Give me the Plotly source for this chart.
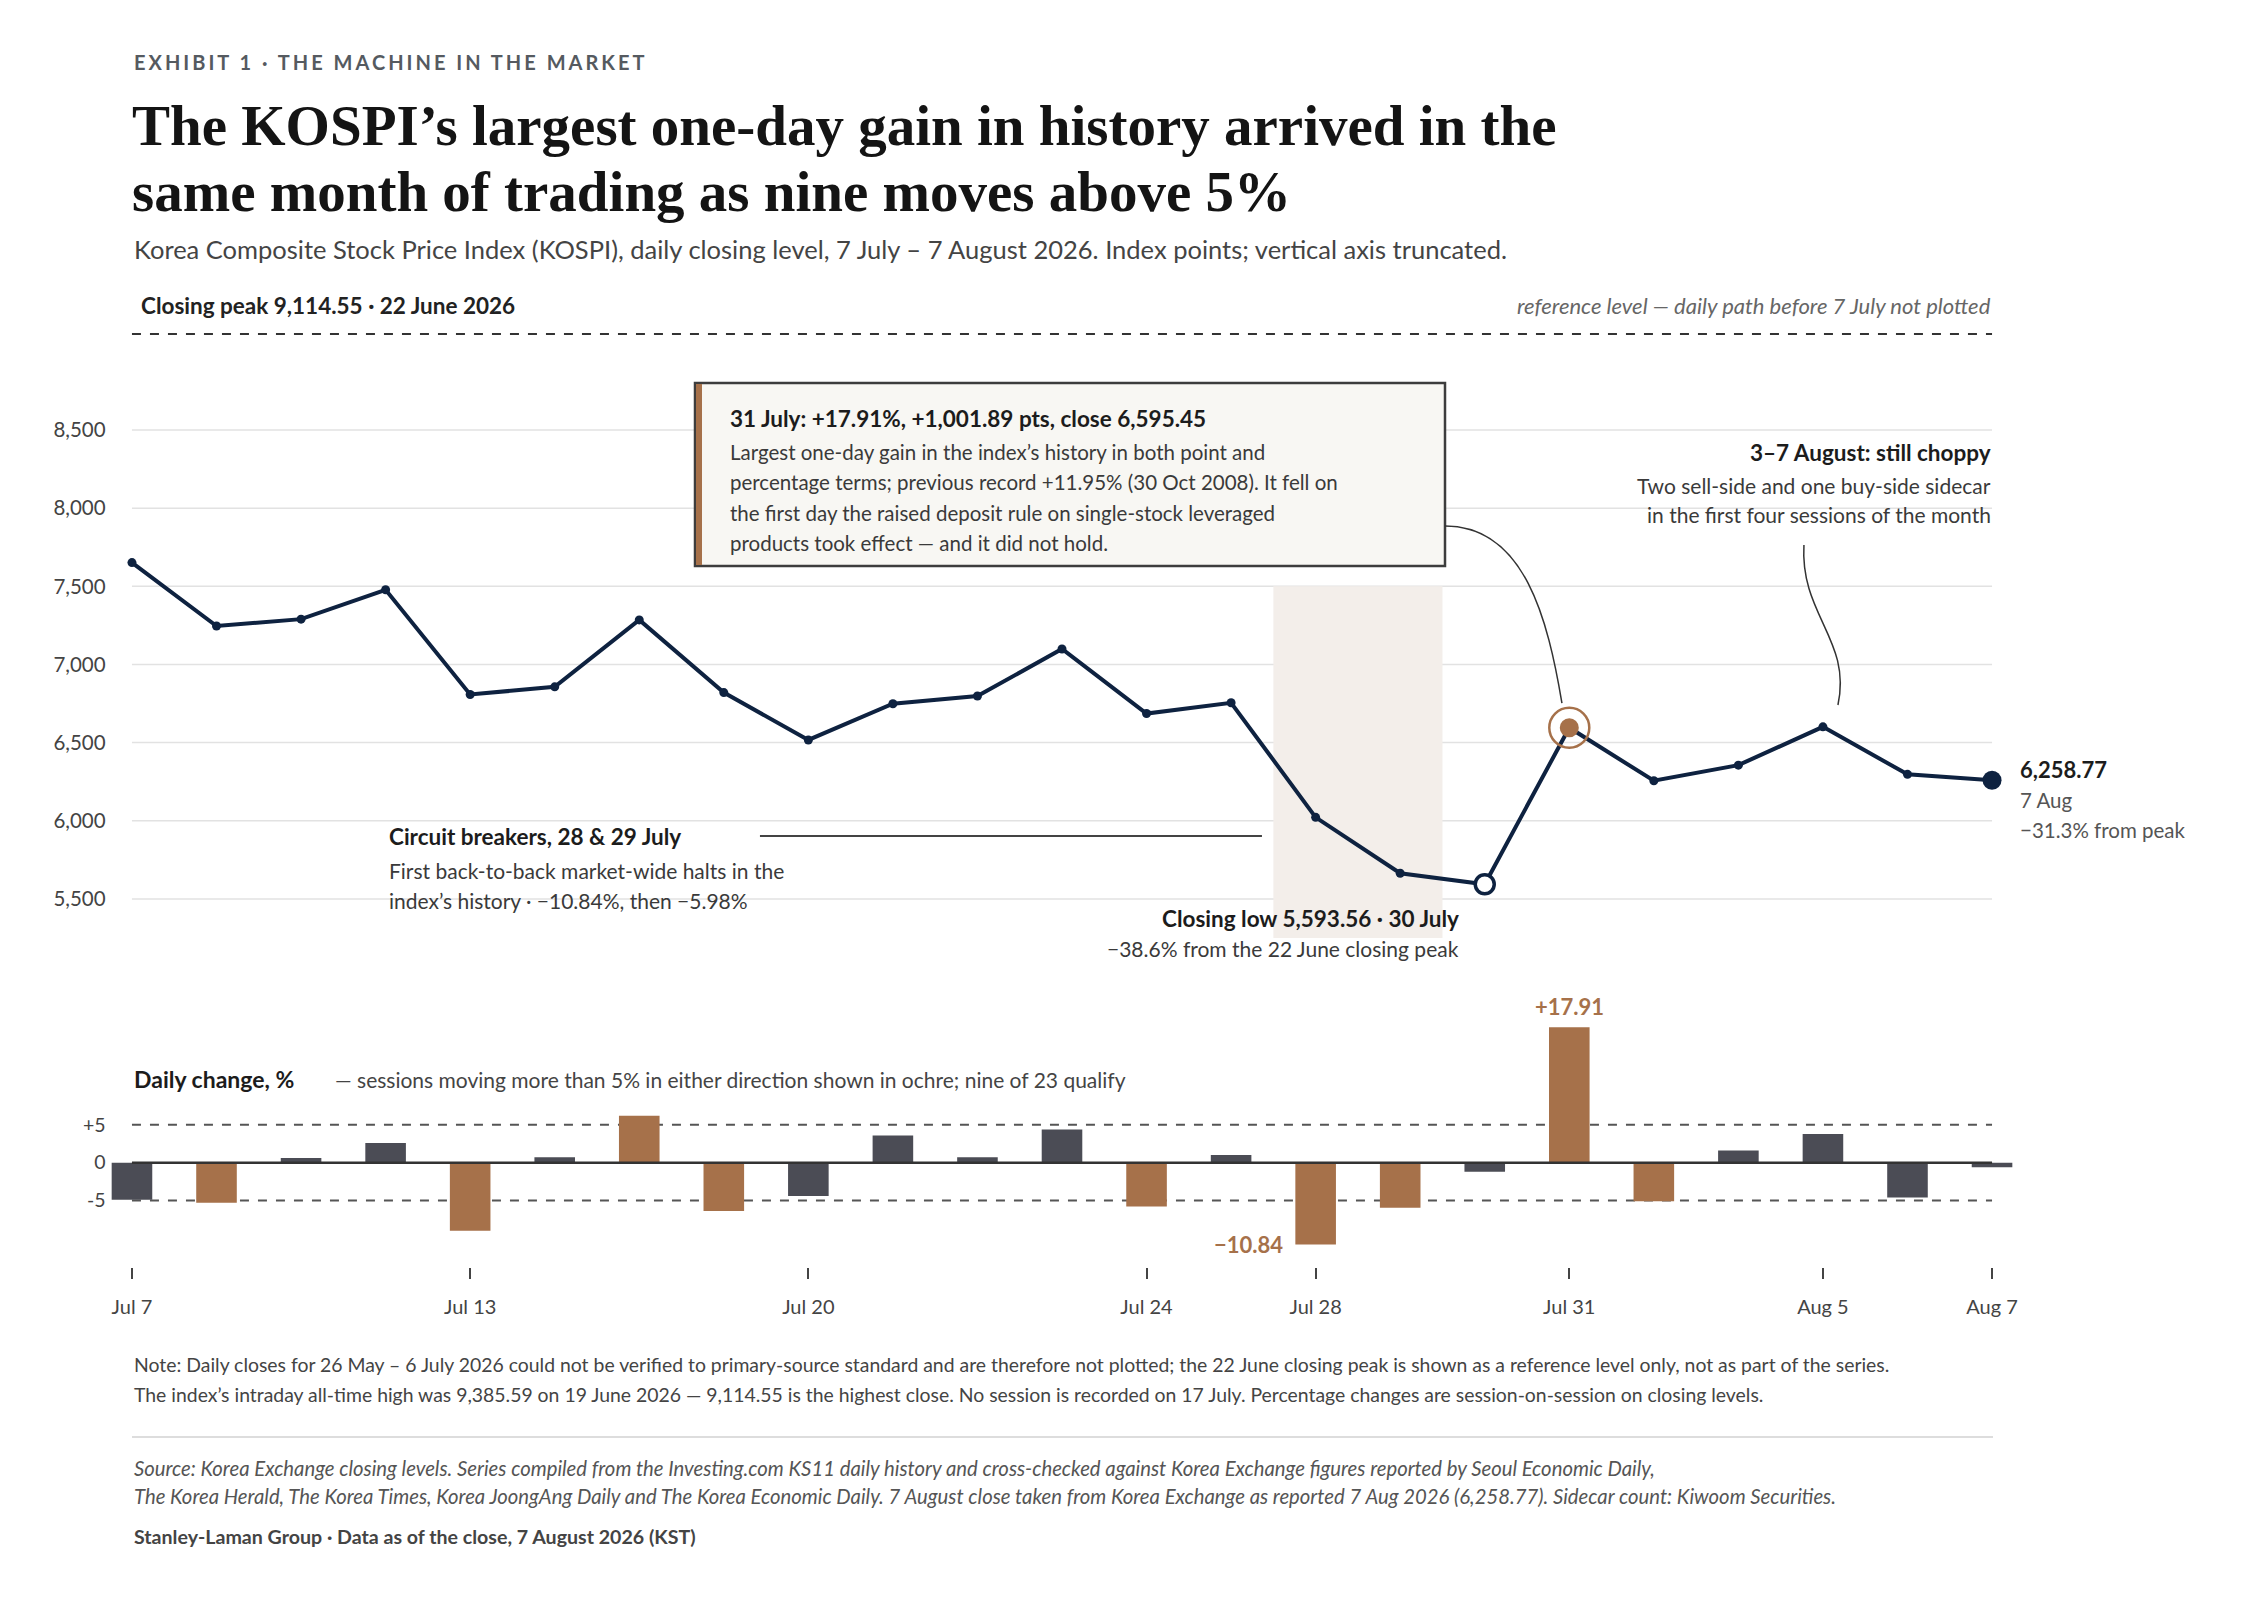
import plotly.graph_objects as go

sessions = ["Jul 7", "Jul 8", "Jul 9", "Jul 10", "Jul 13", "Jul 14", "Jul 15", "Jul 16",
            "Jul 20", "Jul 21", "Jul 22", "Jul 23", "Jul 24", "Jul 27", "Jul 28", "Jul 29",
            "Jul 30", "Jul 31", "Aug 3", "Aug 4", "Aug 5", "Aug 6", "Aug 7"]
closes = [7652, 7246, 7290, 7478, 6808, 6857, 7285, 6820, 6517, 6749, 6798, 7099,
          6686, 6755, 6022, 5664, 5593.56, 6595.45, 6256, 6356, 6601, 6297, 6258.77]
daily_pct = [-4.9, -5.3, 0.6, 2.6, -9.0, 0.7, 6.2, -6.4, -4.4, 3.6, 0.7, 4.4,
             -5.8, 1.0, -10.84, -5.98, -1.2, 17.91, -5.1, 1.6, 3.8, -4.6, -0.6]
tick_labels = ["Jul 7", "Jul 13", "Jul 20", "Jul 24", "Jul 28", "Jul 31", "Aug 5", "Aug 7"]
level_ticks = [5500, 6000, 6500, 7000, 7500, 8000, 8500]
pct_ticks = [-5, 0, 5]
pct_tick_text = ["-5", "0", "+5"]
closing_peak = 9114.55
threshold = 5

NAVY = "#0e2240"
OCHRE = "#a6714a"
SLATE = "#4b4c55"
INK = "#1c1c1c"
GREY = "#4a4a4a"
BODY = "#3a3a3a"
SANS = "Lato"
SERIF = "Liberation Serif"

W, H = 2247, 1601
OFF = 8  # the html page adds an 8px body margin
xs = list(range(len(sessions)))
i_low = sessions.index("Jul 30")
i_jump = sessions.index("Jul 31")
i_drop = sessions.index("Jul 28")
i_last = len(sessions) - 1
tickvals = [sessions.index(t) for t in tick_labels]


def fx(p):  # screen pixel -> paper
    return (p - OFF) / W


def fy(p):
    return 1 - (p - OFF) / H


# screen pixel -> data for the main panel (for the hand-drawn connectors)
def mx(p):
    return (p - 132) / 84.55


def my(p):
    return 8500 - (p - 430) / 0.1563


fig = go.Figure()

# main line
fig.add_trace(go.Scatter(x=xs, y=closes, mode="lines+markers",
                         line=dict(color=NAVY, width=4),
                         marker=dict(size=9, color=NAVY),
                         xaxis="x", yaxis="y", hoverinfo="skip"))
fig.add_trace(go.Scatter(x=[xs[i_low]], y=[closes[i_low]], mode="markers",
                         marker=dict(size=19, color="white", line=dict(color=NAVY, width=3.5)),
                         xaxis="x", yaxis="y", hoverinfo="skip"))
fig.add_trace(go.Scatter(x=[xs[i_jump]], y=[closes[i_jump]], mode="markers",
                         marker=dict(size=40, color="rgba(0,0,0,0)", line=dict(color=OCHRE, width=2.5)),
                         xaxis="x", yaxis="y", hoverinfo="skip"))
fig.add_trace(go.Scatter(x=[xs[i_jump]], y=[closes[i_jump]], mode="markers",
                         marker=dict(size=19, color=OCHRE),
                         xaxis="x", yaxis="y", hoverinfo="skip"))
fig.add_trace(go.Scatter(x=[xs[i_last]], y=[closes[i_last]], mode="markers",
                         marker=dict(size=19, color=NAVY),
                         xaxis="x", yaxis="y", hoverinfo="skip"))

# daily change bars
bar_colors = [OCHRE if abs(v) > threshold else SLATE for v in daily_pct]
fig.add_trace(go.Bar(x=xs, y=daily_pct, marker=dict(color=bar_colors, line=dict(width=0)),
                     width=0.48, xaxis="x2", yaxis="y2", hoverinfo="skip"))

shapes = []
# grid for the level panel
for v in level_ticks:
    shapes.append(dict(type="line", xref="x", yref="y", x0=0, x1=i_last, y0=v, y1=v,
                       line=dict(color="#e2e2e2", width=1.5), layer="below"))
# circuit-breaker band
shapes.append(dict(type="rect", xref="x", yref="y", x0=i_drop - 0.5, x1=i_drop + 1.5, y0=5250, y1=7500,
                   fillcolor="#f3eeea", line=dict(width=0), layer="below"))
# closing peak reference
shapes.append(dict(type="line", xref="x", yref="y", x0=0, x1=i_last, y0=closing_peak, y1=closing_peak,
                   line=dict(color="#333333", width=2, dash="dash")))
# circuit-breaker leader
shapes.append(dict(type="line", xref="x", yref="y", x0=mx(760), x1=mx(1262), y0=my(836), y1=my(836),
                   line=dict(color="#444444", width=2)))
# callout box
shapes.append(dict(type="rect", xref="paper", yref="paper", x0=fx(695), x1=fx(1445), y0=fy(566), y1=fy(383),
                   fillcolor="#f8f7f3", line=dict(color="#3d3d3d", width=2.5)))
shapes.append(dict(type="rect", xref="paper", yref="paper", x0=fx(696), x1=fx(702), y0=fy(565), y1=fy(384),
                   fillcolor=OCHRE, line=dict(width=0)))
# curved connectors
shapes.append(dict(type="path", xref="x", yref="y",
                   path=f"M {mx(1445)},{my(526)} C {mx(1525)},{my(526)} {mx(1548)},{my(620)} {mx(1562)},{my(703)}",
                   line=dict(color="#333333", width=1.5)))
shapes.append(dict(type="path", xref="x", yref="y",
                   path=f"M {mx(1804)},{my(545)} C {mx(1800)},{my(615)} {mx(1852)},{my(640)} {mx(1838)},{my(705)}",
                   line=dict(color="#333333", width=1.5)))
# bar panel reference lines
for v in (threshold, -threshold):
    shapes.append(dict(type="line", xref="x2", yref="y2", x0=0, x1=i_last, y0=v, y1=v,
                       line=dict(color="#555555", width=2, dash="dash"), layer="below"))
shapes.append(dict(type="line", xref="x2", yref="y2", x0=0, x1=i_last, y0=0, y1=0,
                   line=dict(color="#333333", width=2.5)))
# footer rule
shapes.append(dict(type="line", xref="paper", yref="paper", x0=fx(132), x1=fx(1993), y0=fy(1437), y1=fy(1437),
                   line=dict(color="#dddddd", width=2)))

ann = []


def text(t, x, y, size=21, color=GREY, bold=False, italic=False, xanchor="left", family=SANS):
    ann.append(dict(text=t, x=fx(x), y=fy(y), xref="paper", yref="paper", showarrow=False,
                    xanchor=xanchor, yanchor="middle", align=xanchor,
                    font=dict(family=family, size=size, color=color,
                              weight="bold" if bold else "normal",
                              style="italic" if italic else "normal")))


text('<span style="letter-spacing:3px">EXHIBIT 1 · THE MACHINE IN THE MARKET</span>', 132, 62,
     size=20, color="#555a60", bold=True)
text("The KOSPI’s largest one-day gain in history arrived in the", 130, 125, size=57, color="#141414",
     bold=True, family=SERIF)
text("same month of trading as nine moves above 5%", 130, 191, size=57, color="#141414",
     bold=True, family=SERIF)
text("Korea Composite Stock Price Index (KOSPI), daily closing level, 7 July – 7 August 2026. "
     "Index points; vertical axis truncated.", 132, 249, size=25.5, color="#444444")
text("Closing peak 9,114.55 · 22 June 2026", 139, 306, size=22.5, color="#222222", bold=True)
text("reference level — daily path before 7 July not plotted", 1993, 306, size=22, color="#666666",
     italic=True, xanchor="right")

# callout text
text("31 July: +17.91%, +1,001.89 pts, close 6,595.45", 728, 418, size=22.5, color=INK, bold=True)
for t, y in zip(["Largest one-day gain in the index’s history in both point and",
                 "percentage terms; previous record +11.95% (30 Oct 2008). It fell on",
                 "the first day the raised deposit rule on single-stock leveraged",
                 "products took effect — and it did not hold."], [452, 482, 513, 543]):
    text(t, 728, y, size=20.5, color=BODY)

text("3–7 August: still choppy", 1993, 452, size=22.5, color=INK, bold=True, xanchor="right")
text("Two sell-side and one buy-side sidecar", 1993, 485, size=21, color=BODY, xanchor="right")
text("in the first four sessions of the month", 1993, 515, size=21, color=BODY, xanchor="right")

text("Circuit breakers, 28 & 29 July", 387, 836, size=22.5, color=INK, bold=True)
text("First back-to-back market-wide halts in the", 387, 870, size=21, color=BODY)
text("index’s history · −10.84%, then −5.98%", 387, 901, size=21, color=BODY)

text("Closing low 5,593.56 · 30 July", 1461, 918, size=22.5, color=INK, bold=True, xanchor="right")
text("−38.6% from the 22 June closing peak", 1461, 948, size=21, color=BODY, xanchor="right")

text("6,258.77", 2018, 770, size=22, color=INK, bold=True)
text("7 Aug", 2018, 800, size=20.5, color="#555555")
text("−31.3% from peak", 2018, 830, size=20.5, color="#555555")

text("Daily change, %", 132, 1079, size=23, color=INK, bold=True)
text("— sessions moving more than 5% in either direction shown in ochre; nine of 23 qualify",
     333, 1079, size=21, color="#444444")

# bar value labels
ann.append(dict(text=f"+{daily_pct[i_jump]:.2f}", x=xs[i_jump], y=daily_pct[i_jump], xref="x2", yref="y2",
                showarrow=False, yanchor="bottom", yshift=5,
                font=dict(family=SANS, size=22, color=OCHRE, weight="bold")))
ann.append(dict(text=f"−{abs(daily_pct[i_drop]):.2f}", x=xs[i_drop] - 0.36, y=daily_pct[i_drop],
                xref="x2", yref="y2", showarrow=False, xanchor="right", yanchor="middle",
                font=dict(family=SANS, size=22, color=OCHRE, weight="bold")))

text("Note: Daily closes for 26 May – 6 July 2026 could not be verified to primary-source standard and are "
     "therefore not plotted; the 22 June closing peak is shown as a reference level only, not as part of the series.",
     132, 1364, size=19.4, color="#444444")
text("The index’s intraday all-time high was 9,385.59 on 19 June 2026 — 9,114.55 is the highest close. "
     "No session is recorded on 17 July. Percentage changes are session-on-session on closing levels.",
     132, 1394, size=19.4, color="#444444")
text("Source: Korea Exchange closing levels. Series compiled from the Investing.com KS11 daily history and "
     "cross-checked against Korea Exchange figures reported by Seoul Economic Daily,",
     132, 1468, size=20.3, color="#555555", italic=True)
text("The Korea Herald, The Korea Times, Korea JoongAng Daily and The Korea Economic Daily. 7 August close taken "
     "from Korea Exchange as reported 7 Aug 2026 (6,258.77). Sidecar count: Kiwoom Securities.",
     132, 1496, size=20.3, color="#555555", italic=True)
text("Stanley-Laman Group · Data as of the close, 7 August 2026 (KST)", 132, 1536, size=19.6,
     color="#444444", bold=True)

x_dom = [fx(106.6), fx(2017.4)]
fig.update_layout(
    width=W, height=H,
    margin=dict(l=0, r=0, t=0, b=0),
    paper_bgcolor="white", plot_bgcolor="white",
    showlegend=False,
    font=dict(family=SANS, color=GREY),
    shapes=shapes, annotations=ann,
    xaxis=dict(domain=x_dom, range=[-0.3, 22.3], visible=False, anchor="y"),
    yaxis=dict(domain=[fy(938), fy(320.6)], range=[5250, 9200], tickvals=level_ticks,
               tickformat=",", showgrid=False, zeroline=False, showline=False, ticks="",
               tickfont=dict(family=SANS, size=20.5, color="#444444"), anchor="x"),
    xaxis2=dict(domain=x_dom, range=[-0.3, 22.3], tickvals=tickvals, ticktext=tick_labels,
                ticks="outside", ticklen=11, tickwidth=2, tickcolor="#444444",
                showgrid=False, zeroline=False, showline=False, anchor="y2",
                ticklabelstandoff=11,
                tickfont=dict(family=SANS, size=20, color="#444444")),
    yaxis2=dict(domain=[fy(1267), fy(1019)], range=[-13.8, 19], tickvals=pct_ticks,
                ticktext=pct_tick_text, showgrid=False, zeroline=False, showline=False, ticks="",
                tickfont=dict(family=SANS, size=19.5, color="#444444"), anchor="x2"),
    bargap=0.5,
)

fig.write_html("out.html")
